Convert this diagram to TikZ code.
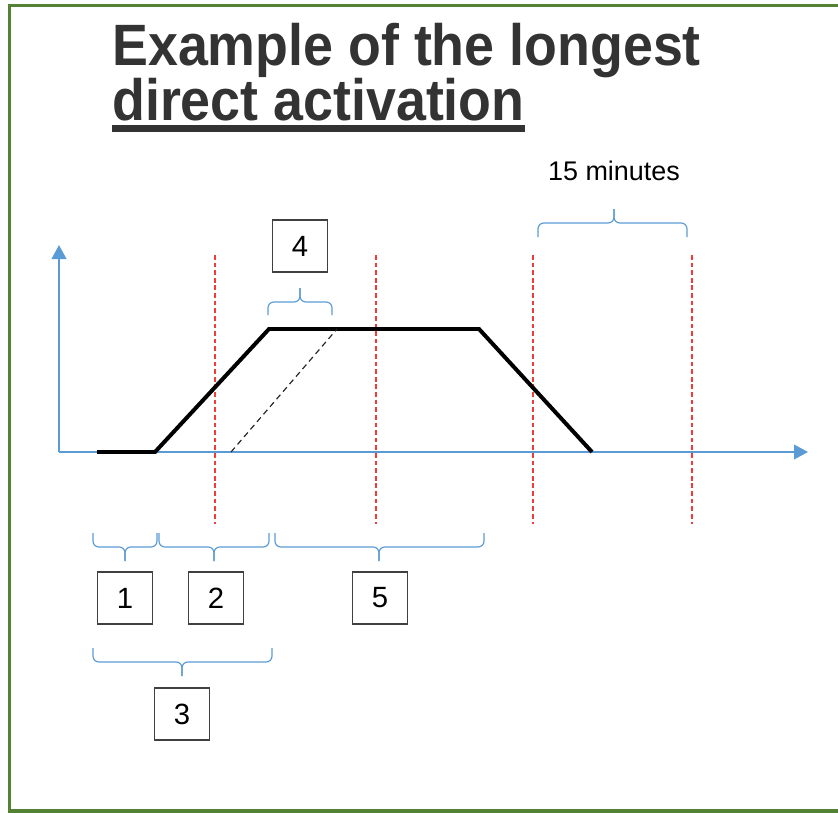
\documentclass[tikz,border=0pt]{standalone}
\usepackage{fontspec}
\setmainfont{Liberation Sans}
\usetikzlibrary{arrows.meta,positioning}
\definecolor{FrameGreen}{HTML}{548235}
\definecolor{AxisBlue}{HTML}{5B9BD5}
\definecolor{MarkRed}{HTML}{F23C3C}
\definecolor{TitleInk}{HTML}{333333}
\definecolor{BoxInk}{HTML}{404040}
\newcommand{\headunder}[1]{\setbox0=\hbox{#1}\rlap{\rule[-9.4pt]{\wd0}{5.6pt}}\box0}
\tikzset{
  every node/.style={font=\fontsize{25}{29}\selectfont, text=black},
  heading/.style={anchor=base west, text=TitleInk, inner sep=0pt, font=\fontsize{45.9}{50}\selectfont\bfseries},
  frame/.style={draw=FrameGreen, line width=2.6pt},
  axisline/.style={-{Triangle[length=4.2mm,width=4.4mm]}, draw=AxisBlue, line width=1.5pt},
  curve/.style={draw=black, line width=3.4pt},
  shifted/.style={draw=black!85, line width=1pt, dash pattern=on 5pt off 3.5pt},
  marker/.style={draw=MarkRed, line width=1pt, dash pattern=on 4pt off 2.5pt},
  span/.style={draw=AxisBlue, line width=1pt, rounded corners=5pt},
  numbox/.style={draw=BoxInk, line width=1.2pt, minimum width=1.65cm, minimum height=1.56cm, inner sep=0pt},
}

\begin{document}
\begin{tikzpicture}[x=0.03cm,y=-0.03cm]
  \useasboundingbox (0,0) rectangle (838,813);

  % Green frame, open at the right edge
  \draw[frame] (860,5.5) -- (9.5,5.5) -- (9.5,811) -- (860,811);

  % Title
  \node[heading] (title1) at (112,65) {\scalebox{1}[1.085]{Example of the longest}};
  \node[heading] (title2) at (112,120) {\scalebox{1}[1.085]{\headunder{direct activation}}};

  % Axes
  \coordinate (origin) at (59,452);
  \coordinate (ytop) at (59,245);
  \coordinate (xend) at (808,452);
  \draw[axisline] (origin) -- (ytop);
  \draw[axisline] (origin) -- (xend);

  % Red time markers
  \draw[marker] (215,255) -- (215,524);
  \draw[marker] (376,255) -- (376,524);
  \draw[marker] (533,255) -- (533,524);
  \draw[marker] (692,255) -- (692,524);

  % Activation profile
  \coordinate (c0) at (97,452);
  \coordinate (c1) at (155,452);
  \coordinate (c2) at (269,329);
  \coordinate (c3) at (479,329);
  \coordinate (c4) at (592,452);
  \draw[curve] (c0) -- (c1) -- (c2) -- (c3) -- (c4);
  \coordinate (d0) at (231,452);
  \coordinate (d1) at (337,329);
  \draw[shifted] (d0) -- (d1);

  % Numbered boxes and label
  \node[numbox] (box4) at (300,246) {4};
  \node[numbox] (box1) at (125,598) {1};
  \node[numbox] (box2) at (216,598) {2};
  \node[numbox] (box5) at (380,598) {5};
  \node[numbox] (box3) at (182,714) {3};
  \node[font=\fontsize{23}{27}\selectfont] (mins) at (614,171) {15 minutes};

  % Braces above the plot
  \draw[span] (268,315) |- (300,302) -- (300,288);
  \draw[span] (332,315) |- (300,302) -- (300,288);
  \draw[span] (538,237) |- (614,223) -- (614,209);
  \draw[span] (687,237) |- (614,223) -- (614,209);

  % Braces below the axis
  \draw[span] (93,533) |- (125,547) -- (125,561);
  \draw[span] (157,533) |- (125,547) -- (125,561);
  \draw[span] (159,533) |- (214,547) -- (214,561);
  \draw[span] (269,533) |- (214,547) -- (214,561);
  \draw[span] (275,533) |- (379,547) -- (379,561);
  \draw[span] (484,533) |- (379,547) -- (379,561);
  \draw[span] (93,648) |- (182,662) -- (182,676);
  \draw[span] (272,648) |- (182,662) -- (182,676);
\end{tikzpicture}
\end{document}
